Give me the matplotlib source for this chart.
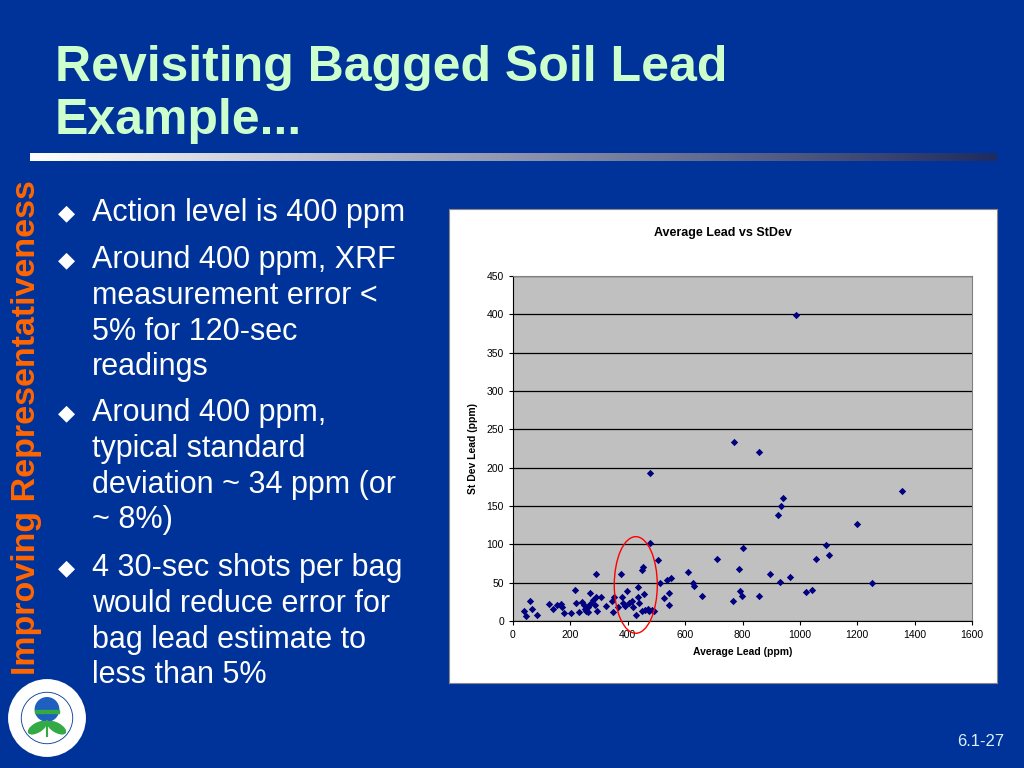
import numpy as np
import matplotlib
matplotlib.use('Agg')
import matplotlib.pyplot as plt
from matplotlib.patches import Ellipse, Circle, Rectangle

# ── data ────────────────────────────────────────
avg_lead = [38, 44, 59, 65, 82, 127, 141, 155, 167, 172, 179, 202, 215, 218, 229,
            242, 247, 251, 254, 260, 263, 268, 268, 280, 288, 286, 293, 307, 288,
            323, 344, 347, 353, 365, 378, 379, 385, 390, 396, 404, 414, 419, 428,
            435, 437, 439, 449, 451, 453, 458, 460, 469, 474, 478, 486, 492, 477,
            507, 514, 525, 536, 544, 545, 551, 611, 626, 630, 658, 711, 766, 771,
            789, 791, 797, 803, 856, 857, 895, 925, 935, 941, 930, 966, 986, 1020,
            1043, 1055, 1091, 1101, 1200, 1251, 1357]
sd_lead = [13, 6, 26, 16, 8, 22, 16, 21, 22, 18, 11, 10, 41, 23, 12,
           25, 21, 16, 13, 12, 18, 22, 36, 27, 31, 21, 13, 31, 61,
           20, 26, 12, 31, 18, 61, 31, 23, 20, 39, 24, 26, 18, 8,
           31, 44, 23, 13, 66, 70, 35, 14, 16, 13, 102, 14, 13, 193,
           80, 49, 30, 53, 36, 21, 56, 64, 49, 46, 33, 81, 26, 233,
           68, 39, 33, 95, 220, 33, 61, 138, 150, 160, 51, 58, 399, 38,
           41, 81, 99, 86, 127, 49, 169]

x_ticks = [0, 200, 400, 600, 800, 1000, 1200, 1400, 1600]
y_ticks = [0, 50, 100, 150, 200, 250, 300, 350, 400, 450]

title_lines = ['Revisiting Bagged Soil Lead', 'Example...']
side_label = 'Improving Representativeness'
bullets = [
    ['Action level is 400 ppm'],
    ['Around 400 ppm, XRF', 'measurement error <', '5% for 120-sec', 'readings'],
    ['Around 400 ppm,', 'typical standard', 'deviation ~ 34 ppm (or', '~ 8%)'],
    ['4 30-sec shots per bag', 'would reduce error for', 'bag lead estimate to',
     'less than 5%'],
]
bullet_y = [213, 260, 413, 568]
line_gap = 35.8
page_no = '6.1-27'

W, H = 1024, 768
BG = '#003399'


def fx(px):
    return px / W


def fy(py):
    return 1 - py / H


plt.rcParams['font.family'] = ['Liberation Sans', 'DejaVu Sans']

fig = plt.figure(figsize=(10.24, 7.68), dpi=100)
fig.patch.set_facecolor(BG)

# ── title ──────────────────────────────────────
for i, line in enumerate(title_lines):
    fig.text(fx(55), fy(68 + i * 53), line, color='#CCFFCC', fontsize=36,
             fontweight='bold', va='center', ha='left')

# gradient rule under the title
grad = fig.add_axes([fx(30), fy(161), fx(967), 8 / H])
g = np.linspace(0, 1, 256).reshape(1, -1)
c0 = np.array([1.0, 1.0, 1.0])
c1 = np.array([0.12, 0.17, 0.38])
img = c0[None, None, :] * (1 - g[..., None]) + c1[None, None, :] * g[..., None]
grad.imshow(img, aspect='auto')
grad.axis('off')

# vertical side label
fig.text(fx(27), fy(428), side_label, rotation=90, color='#FF6600',
         fontsize=24.5, fontweight='bold', va='center', ha='center')

# bullets
for y0, lines in zip(bullet_y, bullets):
    fig.text(fx(66), fy(y0), '\u25c6', color='white', fontsize=16,
             va='center', ha='center', family=['DejaVu Sans'])
    for k, ln in enumerate(lines):
        fig.text(fx(92), fy(y0 + k * line_gap), ln, color='white', fontsize=22,
                 va='center', ha='left')

# page number
fig.text(fx(1004), fy(742), page_no, color='#DDEEFF', fontsize=12,
         ha='right', va='center')

# EPA seal (simplified)
seal = fig.add_axes([fx(8), fy(757), 78 / W, 78 / H])
seal.set_xlim(-1, 1); seal.set_ylim(-1, 1); seal.set_aspect('equal')
seal.axis('off')
seal.add_patch(Circle((0, 0), 0.98, color='white'))
seal.add_patch(Circle((0, 0), 0.66, fill=False, ec='#003399', lw=0.6))
seal.add_patch(Circle((0, 0.22), 0.3, color='#1f5fbf'))
seal.add_patch(Rectangle((-0.3, 0.12), 0.6, 0.08, color='#33aa44'))
seal.add_patch(Ellipse((-0.25, -0.25), 0.5, 0.22, angle=30, color='#33aa44'))
seal.add_patch(Ellipse((0.25, -0.25), 0.5, 0.22, angle=-30, color='#33aa44'))
seal.plot([0, 0], [-0.45, -0.08], color='#33aa44', lw=1.5)

# ── chart box ──────────────────────────────────
box = fig.add_axes([fx(449), fy(683), 548 / W, 474 / H])
box.set_facecolor('white')
box.set_xticks([]); box.set_yticks([])
for s in box.spines.values():
    s.set_color('#888888'); s.set_linewidth(0.8)

ax = fig.add_axes([fx(513), fy(621), 459 / W, 345 / H])
ax.set_facecolor('#C0C0C0')
ax.scatter(avg_lead, sd_lead, marker='D', s=14, color='#000080', zorder=3,
           linewidths=0)
ax.set_xlim(0, 1600)
ax.set_ylim(0, 450)
ax.set_xticks(x_ticks)
ax.set_yticks(y_ticks)
ax.tick_params(labelsize=7.5, length=3, width=0.8, color='black')
ax.yaxis.grid(True, color='black', linewidth=0.9)
ax.set_axisbelow(True)
for side in ['top', 'right']:
    ax.spines[side].set_color('#808080')
for side in ['left', 'bottom']:
    ax.spines[side].set_color('black')
ax.set_xlabel('Average Lead (ppm)', fontsize=7.5, fontweight='bold', labelpad=5)
ax.set_ylabel('St Dev Lead (ppm)', fontsize=7.5, fontweight='bold', labelpad=6)
fig.text(fx(723), fy(233), 'Average Lead vs StDev', fontsize=9,
         fontweight='bold', ha='center', va='center')

# red ring around the action-level region
ax.add_patch(Ellipse((428, 47), 150, 126, fill=False, ec='red', lw=1.0,
                     clip_on=False, zorder=4))

fig.savefig('out.png', dpi=100, facecolor=BG)
